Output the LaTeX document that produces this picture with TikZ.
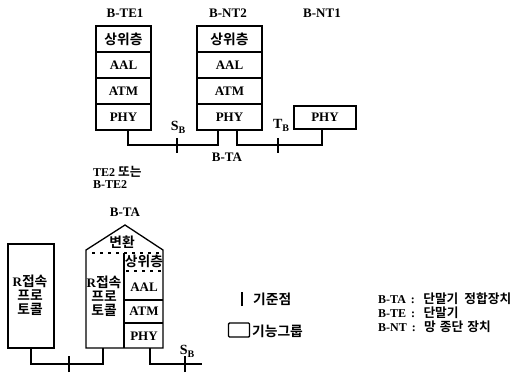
\documentclass[tikz,border=0pt]{standalone}
\usepackage{fontspec}
\setmainfont{Liberation Serif}
\newfontfamily\kr{Noto Sans CJK KR}[Scale=1.06,BoldFont={Noto Sans CJK KR Bold}]
\newcommand\K[1]{{\kr\bfseries #1}}
\newcommand\SubB[1]{{\fontsize{14}{14}\selectfont #1}\raisebox{-3pt}{\fontsize{10}{10}\selectfont B}}
\begin{document}
\begin{tikzpicture}[x=1pt,y=-1pt,
  every node/.style={font=\fontsize{13}{13}\selectfont\bfseries, inner sep=0pt},
  ln/.style={line width=1.3pt},
  row/.style={draw, line width=1.3pt, minimum height=26pt, inner sep=0pt},
  tick/.style={line width=1.3pt},
  dsh/.style={line width=1.1pt, dash pattern=on 3pt off 5pt},
  legtxt/.style={anchor=west, font=\fontsize{12}{12}\selectfont\bfseries}]
\useasboundingbox (0,0) rectangle (529,373);

% ---- top: B-TE1
\node (lte1) at (125,13) {B-TE1};
\node[row, minimum width=55pt] (te1a) at (123.5,39) {\K{상위층}};
\node[row, minimum width=55pt] (te1b) at (123.5,65) {AAL};
\node[row, minimum width=55pt] (te1c) at (123.5,91) {ATM};
\node[row, minimum width=55pt] (te1d) at (123.5,117) {PHY};
% ---- B-NT2
\node (lnt2) at (228,13) {B-NT2};
\node[row, minimum width=65pt] (nt2a) at (229.5,39) {\K{상위층}};
\node[row, minimum width=65pt] (nt2b) at (229.5,65) {AAL};
\node[row, minimum width=65pt] (nt2c) at (229.5,91) {ATM};
\node[row, minimum width=65pt] (nt2d) at (229.5,117) {PHY};
% ---- B-NT1
\node (lnt1) at (322,13) {B-NT1};
\node[row, minimum width=62pt, minimum height=23pt] (nt1) at (325,117.5) {PHY};

\coordinate (sbt) at (177,145);
\coordinate (tbt) at (278,145);
\draw[ln] ([xshift=4.5pt]te1d.south) |- (sbt) -| ([xshift=-11.5pt]nt2d.south);
\draw[ln] ([xshift=7.5pt]nt2d.south) |- (tbt) -| ([xshift=-3pt]nt1.south);
\draw[tick] ([yshift=-7.5pt]sbt) -- ([yshift=7.5pt]sbt);
\draw[tick] ([yshift=-7.5pt]tbt) -- ([yshift=7.5pt]tbt);
\node (sb1) at (178,127) {\SubB{S}};
\node (tb1) at (281,125) {\SubB{T}};
\node (bta1) at (227,157) {B-TA};
\node[legtxt] (te2a) at (93,172) {TE2 \K{또는}};
\node[legtxt] (te2b) at (93,185) {B-TE2};

% ---- bottom: R interface box
\node[draw, line width=1.3pt, minimum width=46pt, minimum height=104pt] (rbox) at (31,296) {};
\node (r1) at (30,281) {R\K{접속}};
\node (r2) at (30,295) {\K{프로}};
\node (r3) at (30,309) {\K{토콜}};

% ---- B-TA house
\node (bta2) at (125,212) {B-TA};
\draw[ln, line join=miter] (86,348) -- (86,250) -- (125,225) -- (163,250) -- (163,348) -- cycle;
\draw[dsh] (92,253) -- (163,253);
\node (conv) at (122,242) {\K{변환}};
\draw[ln] (124,253) -- (124,348);
\draw[dsh] (126,271) -- (163,271);
\draw[ln] (124,300) -- (163,300);
\draw[ln] (124,323) -- (163,323);
\node (u2) at (144,261) {\K{상위층}};
\node (aal2) at (144,287) {AAL};
\node (atm2) at (144,311) {ATM};
\node (phy2) at (144,336) {PHY};
\node (r4) at (104,282) {R\K{접속}};
\node (r5) at (104,296) {\K{프로}};
\node (r6) at (104,310) {\K{토콜}};

\coordinate (rt) at (69,364);
\coordinate (sbb) at (185,364);
\coordinate (bend) at (202,364);
\draw[ln] (rbox.south) |- (rt) -| (103,348);
\draw[ln] (150,348) |- (bend);
\draw[tick] ([yshift=-8pt]rt) -- ([yshift=8pt]rt);
\draw[tick] ([yshift=-8pt]sbb) -- ([yshift=8pt]sbb);
\node (sb2) at (187,351) {\SubB{S}};

% ---- legend
\coordinate (lgt) at (242,299);
\draw[line width=1.7pt] ([yshift=-7pt]lgt) -- ([yshift=7pt]lgt);
\node[anchor=west] (lg1) at (253,299) {\K{기준점}};
\node[draw, line width=1.4pt, rounded corners=1pt, minimum width=21pt, minimum height=14pt] (lgbox) at (239,330) {};
\node[anchor=west] (lg2) at (252,331) {\K{기능그룹}};
\node[legtxt] (d1) at (378,299) {B-TA \,:\;\, \K{단말기\hspace{6pt}정합장치}};
\node[legtxt] (d2) at (378,313) {B-TE \,:\;\, \K{단말기}};
\node[legtxt] (d3) at (378,327) {B-NT \,:\;\, \K{망\hspace{4pt}종단\hspace{4pt}장치}};
\end{tikzpicture}
\end{document}
